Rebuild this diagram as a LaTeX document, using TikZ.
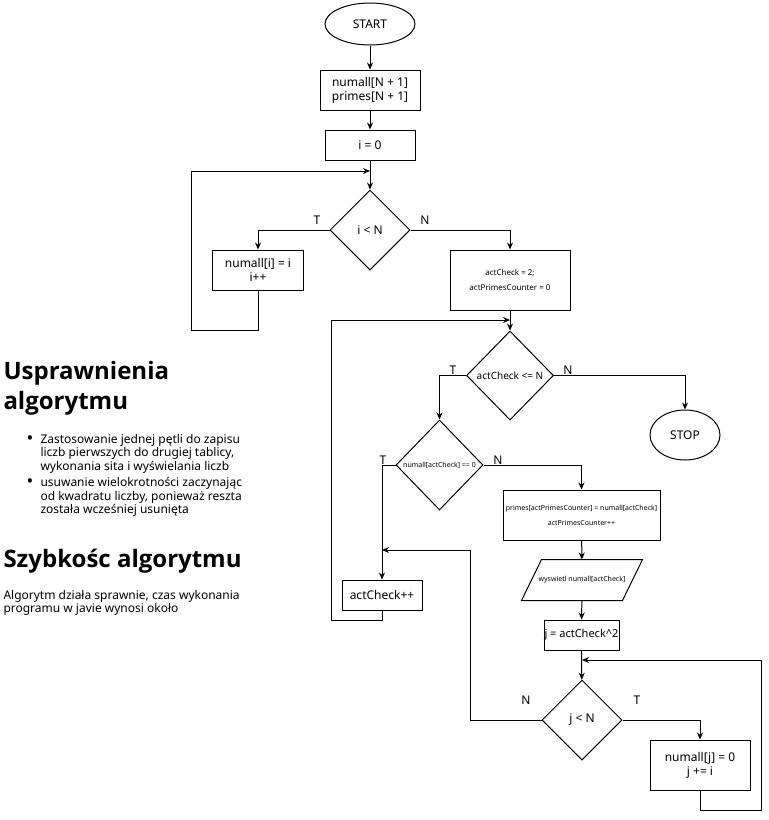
\documentclass[tikz,border=0pt]{standalone}
\usepackage{fontspec}
\setmainfont{Noto Sans}
\newfontfamily\headfont{Open Sans}
\usetikzlibrary{arrows.meta,positioning,shapes.geometric}

\newcommand{\dotitem}{\makebox[16pt][l]{\hspace{2pt}\raisebox{-1pt}{\fontsize{18}{13.5}\selectfont\textbullet}}}

\begin{document}
\begin{tikzpicture}[x=1pt,y=-1pt,line width=1pt,
  box/.style={draw,rectangle,inner sep=0pt,align=center,font=\fontsize{12}{14}\selectfont},
  decision/.style={draw,diamond,aspect=1,inner sep=0pt,align=center,minimum width=80pt,minimum height=80pt,font=\fontsize{12}{14}\selectfont},
  terminal/.style={draw,ellipse,inner sep=0pt,font=\fontsize{12}{14}\selectfont},
  heading/.style={inner sep=0pt,align=left,font=\headfont\fontsize{24}{30}\selectfont\bfseries},
  flow/.style={-{Stealth[length=7pt,width=6pt]}},
  lbl/.style={inner sep=0pt,font=\fontsize{12}{14}\selectfont}]
\useasboundingbox (0,0) rectangle (769,820);
% the notes on the left
\node[heading,anchor=north west] (head1) at (3,361) {Usprawnienia\\algorytmu};
\node[anchor=north west,inner sep=0pt,font=\fontsize{12}{13.5}\selectfont] (notes) at (24,433.5) {%
  \begin{tabular}{@{}l@{}l@{}}
  \dotitem & Zastosowanie jednej pętli do zapisu\\
  & liczb pierwszych do drugiej tablicy,\\
  & wykonania sita i wyświelania liczb\\[3pt]
  \dotitem & usuwanie wielokrotności zaczynając\\
  & od kwadratu liczby, ponieważ reszta\\
  & została wcześniej usunięta
  \end{tabular}};
\node[heading,anchor=base west] (head2) at (3,567) {Szybkośc algorytmu};
\node[anchor=north west,inner sep=0pt,align=left,font=\fontsize{12}{13}\selectfont] (speed) at (3,590) {Algorytm działa sprawnie, czas wykonania\\programu w javie wynosi około};
% the blocks
\node[terminal,minimum width=90pt,minimum height=42pt] (start) at (370,24) {START};
\node[box,minimum width=100pt,minimum height=40pt] (tabs) at (370,90) {numall[N + 1]\\primes[N + 1]};
\node[box,minimum width=90pt,minimum height=30pt] (init) at (370,145) {i = 0};
\node[decision] (cond1) at (370,230) {i < N};
\node[box,minimum width=91pt,minimum height=40pt] (fill) at (258,270) {numall[i] = i\\i++};
\node[box,minimum width=120pt,minimum height=60pt,font=\fontsize{8}{15}\selectfont] (counters) at (510,280) {actCheck = 2;\\actPrimesCounter = 0};
\node[decision,minimum width=87pt,minimum height=89pt,font=\fontsize{10}{12}\selectfont] (outer) at (510,375.5) {actCheck <= N};
\node[terminal,minimum width=70pt,minimum height=50pt] (stop) at (685,435) {STOP};
\node[decision,minimum width=87pt,minimum height=90pt,font=\fontsize{7}{9}\selectfont] (isprime) at (439.5,465) {numall[actCheck] == 0};
\node[box,minimum width=157pt,minimum height=50pt,font=\fontsize{7}{15}\selectfont] (store) at (581.5,515) {primes[actPrimesCounter] = numall[actCheck]\\actPrimesCounter++};
\node[inner sep=0pt,minimum width=100pt,minimum height=40pt,font=\fontsize{7}{9}\selectfont] (show) at (582,580) {wyswietl numall[actCheck]};
\draw ([xshift=-10pt]show.south west) -- ([xshift=-10pt]show.south east) -- ([xshift=10pt]show.north east) -- ([xshift=10pt]show.north west) -- cycle;
\node[box,minimum width=75pt,minimum height=30pt,font=\fontsize{11}{13}\selectfont] (square) at (581.5,635) {j = actCheck\^{}2};
\node[decision] (inner) at (582,720) {j < N};
\node[box,minimum width=100pt,minimum height=50pt] (sieve) at (700,765) {numall[j] = 0\\j += i};
\node[box,minimum width=80pt,minimum height=30pt] (next) at (382,595) {actCheck++};
% the merge points
\coordinate (join1) at (370,171);
\coordinate (join2) at (510,320);
\coordinate (join3) at (382,550);
\coordinate (join4) at (582,660);
% the connectors
\draw[flow] (start) -- (tabs);
\draw[flow] (tabs) -- (init);
\draw[flow] (init) -- (cond1);
\draw[flow] (cond1.west) -| (fill.north);
\draw[flow] (fill.south) -- ++(0,40) -| (191,171) -- (join1);
\draw[flow] (cond1.east) -| (counters.north);
\draw[flow] (counters) -- (outer);
\draw[flow] (outer.west) -| (isprime.north);
\draw[flow] (outer.east) -| (stop.north);
\draw[flow] (isprime.west) -| (next.north);
\draw[flow] (isprime.east) -| (store.north);
\draw[flow] (next.south) -- ++(0,10) -| (331,320) -- (join2);
\draw[flow] (store) -- (show);
\draw[flow] (show) -- (square);
\draw[flow] (square) -- (inner);
\draw[flow] (inner.east) -| (sieve.north);
\draw[flow] (sieve.south) -- ++(0,20) -| (761,660) -- (join4);
\draw[flow] (inner.west) -- ++(-71,0) |- (join3);
% the branch labels
\node[lbl] (t1) at (317,220) {T};
\node[lbl] (n1) at (425,220) {N};
\node[lbl] (t2) at (453,370) {T};
\node[lbl] (n2) at (568,370) {N};
\node[lbl] (t3) at (383,460) {T};
\node[lbl] (n3) at (498,460) {N};
\node[lbl] (n4) at (526,700) {N};
\node[lbl] (t4) at (637,700) {T};
\end{tikzpicture}
\end{document}
